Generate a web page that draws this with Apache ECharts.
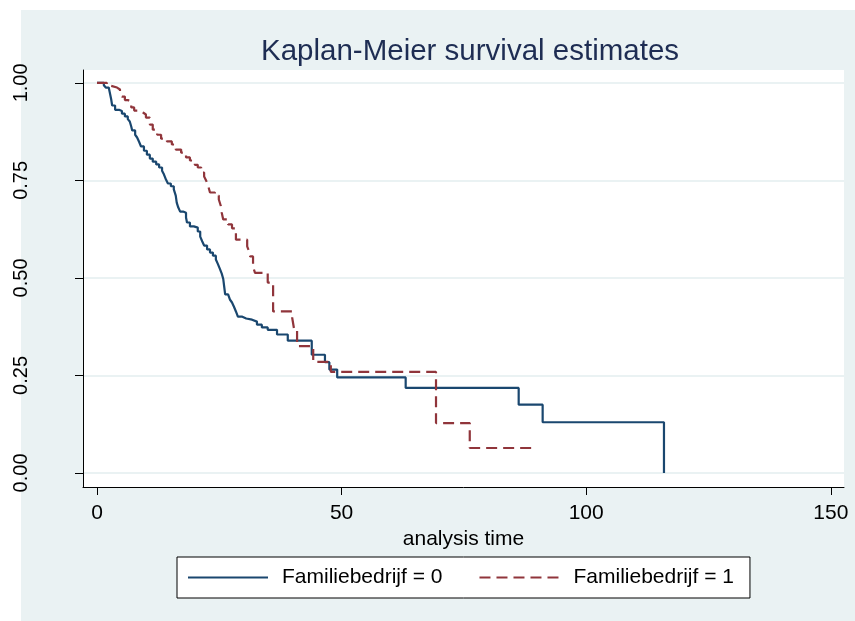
<!DOCTYPE html>
<html>
<head>
<meta charset="utf-8">
<script src="https://cdn.jsdelivr.net/npm/echarts@6/dist/echarts.min.js"></script>
<style>
html,body{margin:0;padding:0;background:#ffffff;}
#chart{width:855px;height:621px;}
</style>
</head>
<body>
<div id="chart"></div>
<script>
// Group Familiebedrijf = 0 : event times and survival after each event
const times0 = [0, 1.4, 1.8, 2.4, 2.7, 2.9, 3.1, 3.7, 4.5, 5.1, 5.7, 6.3, 6.7, 7.0, 7.2, 7.8, 8.2, 8.6, 9.0, 9.6,
  10.2, 10.8, 11.4, 12.1, 12.7, 13.3, 13.7, 14.1, 14.5, 15.1, 15.7, 16.1, 16.3, 16.6, 17.0, 17.6, 18.2, 18.4, 19.0, 19.8,
  20.6, 21.1, 21.5, 21.9, 22.5, 23.1, 23.7, 24.3, 24.7, 25.1, 25.5, 25.8, 26.0, 26.2, 26.8, 27.2, 27.6, 28.0, 28.4, 28.8,
  29.6, 30.5, 31.7, 32.7, 33.7, 34.9, 36.8, 39.0, 43.9, 46.6, 47.5, 49.1, 63.1, 86.2, 91.1, 115.9];
const surv0 = [1.000, 0.994, 0.988, 0.983, 0.970, 0.958, 0.942, 0.931, 0.928, 0.921, 0.914, 0.907, 0.901, 0.888, 0.878, 0.867, 0.860, 0.849, 0.837, 0.826,
  0.816, 0.806, 0.798, 0.791, 0.783, 0.775, 0.765, 0.752, 0.742, 0.735, 0.727, 0.711, 0.693, 0.681, 0.670, 0.667, 0.655, 0.642, 0.632, 0.629,
  0.619, 0.606, 0.594, 0.583, 0.573, 0.565, 0.557, 0.547, 0.536, 0.524, 0.511, 0.498, 0.478, 0.458, 0.455, 0.444, 0.437, 0.426, 0.414, 0.401,
  0.396, 0.393, 0.388, 0.380, 0.373, 0.367, 0.355, 0.339, 0.303, 0.284, 0.265, 0.245, 0.218, 0.175, 0.130, 0.000];

// Group Familiebedrijf = 1
const times1 = [0, 2.0, 2.7, 4.1, 4.7, 5.1, 5.7, 6.3, 7.0, 7.6, 8.8, 9.4, 10.0, 10.8, 11.4, 12.3, 13.1, 14.3, 15.3, 16.1,
  17.2, 18.2, 19.0, 20.0, 20.6, 21.3, 21.9, 22.3, 22.7, 23.1, 24.1, 24.9, 25.3, 25.5, 25.8, 26.8, 27.6, 28.4, 30.7, 31.1,
  31.3, 31.9, 32.3, 34.9, 36.0, 39.9, 40.3, 40.9, 44.2, 47.8, 69.3, 76.2, 89.7];
const surv1 = [1.000, 0.993, 0.988, 0.983, 0.975, 0.965, 0.956, 0.951, 0.937, 0.929, 0.924, 0.919, 0.911, 0.893, 0.880, 0.867, 0.857, 0.850, 0.842, 0.829,
  0.821, 0.809, 0.801, 0.790, 0.783, 0.770, 0.760, 0.750, 0.737, 0.719, 0.711, 0.701, 0.685, 0.667, 0.650, 0.637, 0.627, 0.598, 0.581, 0.568,
  0.555, 0.529, 0.513, 0.488, 0.414, 0.398, 0.368, 0.325, 0.285, 0.259, 0.128, 0.064, 0.064];

const xTicks = [0, 50, 100, 150];
const yTicks = [0, 0.25, 0.5, 0.75, 1];
const seriesNames = ['Familiebedrijf = 0', 'Familiebedrijf = 1'];
const titleText = 'Kaplan-Meier survival estimates';
const xName = 'analysis time';

function pairs(t, s) {
  const out = [];
  const n = Math.min(t.length, s.length);
  for (let i = 0; i < n; i++) out.push([t[i], s[i]]);
  return out;
}

const chart = echarts.init(document.getElementById('chart'), null, {renderer: 'canvas'});
const font = 'Liberation Sans, Arial, Helvetica, sans-serif';

chart.setOption({
  animation: false,
  backgroundColor: '#ffffff',
  textStyle: {fontFamily: font},
  graphic: [{
    type: 'rect', z: -100, silent: true,
    shape: {x: 21, y: 10, width: 834, height: 611},
    style: {fill: '#eaf2f3'}
  }, {
    type: 'rect', z: 1000, zlevel: 1, silent: true,
    shape: {x: 0, y: 0, width: 13, height: 621},
    style: {fill: '#ffffff'}
  }],
  title: {
    text: titleText,
    left: 465, top: 32, textAlign: 'center',
    textStyle: {fontFamily: font, fontSize: 29.5, fontWeight: 'normal', color: '#1e2d53'}
  },
  grid: {
    left: 83, top: 70, right: 11, bottom: 134,
    show: true, backgroundColor: '#ffffff', borderWidth: 0
  },
  legend: {
    left: 177, top: 557,
    orient: 'horizontal',
    backgroundColor: '#ffffff',
    borderColor: '#000000', borderWidth: 1, borderRadius: 0,
    padding: [10, 16, 10, 10],
    itemWidth: 80, itemHeight: 20, itemGap: 36,
    itemStyle: {opacity: 0},
    textStyle: {fontFamily: font, fontSize: 21, color: '#000000', padding: [0, 0, 0, 9]},
    data: seriesNames
  },
  xAxis: {
    type: 'value',
    min: -2.86, max: 152.7,
    name: xName, nameLocation: 'middle', nameGap: 36,
    nameTextStyle: {fontFamily: font, fontSize: 21, color: '#000000'},
    axisLine: {show: true, onZero: false, lineStyle: {color: '#000000', width: 1}},
    axisTick: {show: true, length: 8, customValues: xTicks, lineStyle: {color: '#000000'}},
    axisLabel: {customValues: xTicks, fontSize: 21, color: '#000000', margin: 16, fontFamily: font},
    splitLine: {show: false}
  },
  yAxis: {
    type: 'value',
    min: -0.036, max: 1.033,
    axisLine: {show: true, onZero: false, lineStyle: {color: '#000000', width: 1}},
    axisTick: {show: true, length: 8, customValues: yTicks, lineStyle: {color: '#000000'}},
    axisLabel: {
      customValues: yTicks, rotate: 90, fontSize: 20, color: '#000000', margin: 52, fontFamily: font,
      formatter: v => v.toFixed(2)
    },
    splitLine: {show: true, lineStyle: {color: '#eaf2f3', width: 2}}
  },
  series: [{
    name: seriesNames[0],
    type: 'line', step: 'end', symbol: 'none', showSymbol: false,
    lineStyle: {color: '#1a476f', width: 2.2},
    itemStyle: {color: '#1a476f'},
    data: pairs(times0, surv0),
    z: 3
  }, {
    name: seriesNames[1],
    type: 'line', step: 'end', symbol: 'none', showSymbol: false,
    lineStyle: {color: '#90353b', width: 2.2, type: [11, 6]},
    itemStyle: {color: '#90353b'},
    data: pairs(times1, surv1),
    z: 4
  }]
});
</script>
</body>
</html>
